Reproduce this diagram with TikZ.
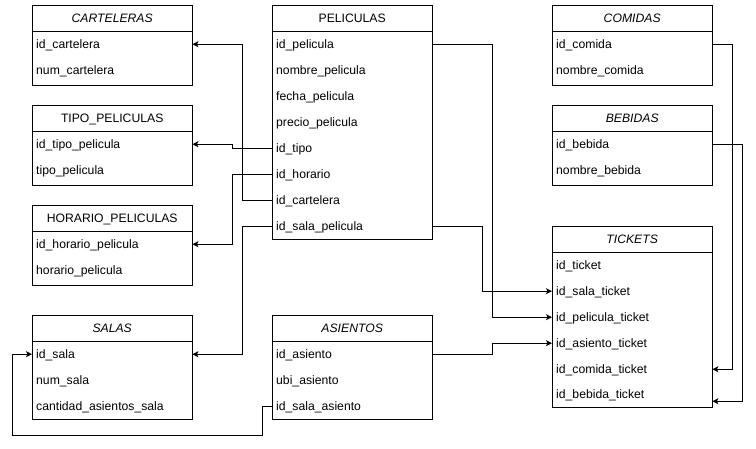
\documentclass[tikz,border=0pt]{standalone}
\usepackage{fontspec}
\setmainfont{Liberation Sans}
\usetikzlibrary{arrows.meta}
\begin{document}
\begin{tikzpicture}[x=1pt,y=-1pt,
  font=\fontsize{12.2}{14}\selectfont,
  tbl/.style={draw, line width=0.9pt, minimum width=160pt, anchor=north west, inner sep=0pt},
  hdr/.style={minimum width=160pt, minimum height=26pt, anchor=north west, inner sep=0pt, text height=9pt, text depth=1pt},
  hdri/.style={hdr, font=\fontsize{12.2}{14}\selectfont\itshape},
  rowbox/.style={minimum height=26pt, anchor=north west, text width=152pt, inner xsep=4pt, inner ysep=0pt, align=left, text height=9pt, text depth=1pt},
  conn/.style={line width=0.9pt, -{Stealth[length=6pt,width=6pt,inset=1.5pt]}},
  hline/.style={line width=0.9pt}
]
\useasboundingbox (0,0) rectangle (756,449);
\fill[white] (0,0) rectangle (756,449);

% CARTELERAS
\node[tbl, minimum height=80pt] (cartT) at (32,5) {};
\node[hdri] (cartH) at (32,5) {CARTELERAS};
\draw[hline] (cartH.south west) -- (cartH.south east);
\node[rowbox] (cart1) at (32,31) {id\_cartelera};
\node[rowbox] (cart2) at (32,57) {num\_cartelera};

% TIPO_PELICULAS
\node[tbl, minimum height=80pt] (tipoT) at (32,105) {};
\node[hdr] (tipoH) at (32,105) {TIPO\_PELICULAS};
\draw[hline] (tipoH.south west) -- (tipoH.south east);
\node[rowbox] (tipo1) at (32,131) {id\_tipo\_pelicula};
\node[rowbox] (tipo2) at (32,157) {tipo\_pelicula};

% HORARIO_PELICULAS
\node[tbl, minimum height=80pt] (horT) at (32,205) {};
\node[hdr] (horH) at (32,205) {HORARIO\_PELICULAS};
\draw[hline] (horH.south west) -- (horH.south east);
\node[rowbox] (hor1) at (32,231) {id\_horario\_pelicula};
\node[rowbox] (hor2) at (32,257) {horario\_pelicula};

% SALAS
\node[tbl, minimum height=104pt] (salaT) at (32,315) {};
\node[hdri] (salaH) at (32,315) {SALAS};
\draw[hline] (salaH.south west) -- (salaH.south east);
\node[rowbox] (sala1) at (32,341) {id\_sala};
\node[rowbox] (sala2) at (32,367) {num\_sala};
\node[rowbox] (sala3) at (32,393) {cantidad\_asientos\_sala};

% PELICULAS
\node[tbl, minimum height=234pt] (pelT) at (272,5) {};
\node[hdr] (pelH) at (272,5) {PELICULAS};
\draw[hline] (pelH.south west) -- (pelH.south east);
\node[rowbox] (pel1) at (272,31) {id\_pelicula};
\node[rowbox] (pel2) at (272,57) {nombre\_pelicula};
\node[rowbox] (pel3) at (272,83) {fecha\_pelicula};
\node[rowbox] (pel4) at (272,109) {precio\_pelicula};
\node[rowbox] (pel5) at (272,135) {id\_tipo};
\node[rowbox] (pel6) at (272,161) {id\_horario};
\node[rowbox] (pel7) at (272,187) {id\_cartelera};
\node[rowbox] (pel8) at (272,213) {id\_sala\_pelicula};

% ASIENTOS
\node[tbl, minimum height=104pt] (asiT) at (272,315) {};
\node[hdri] (asiH) at (272,315) {ASIENTOS};
\draw[hline] (asiH.south west) -- (asiH.south east);
\node[rowbox] (asi1) at (272,341) {id\_asiento};
\node[rowbox] (asi2) at (272,367) {ubi\_asiento};
\node[rowbox] (asi3) at (272,393) {id\_sala\_asiento};

% COMIDAS
\node[tbl, minimum height=80pt] (comT) at (552,5) {};
\node[hdri] (comH) at (552,5) {COMIDAS};
\draw[hline] (comH.south west) -- (comH.south east);
\node[rowbox] (com1) at (552,31) {id\_comida};
\node[rowbox] (com2) at (552,57) {nombre\_comida};

% BEBIDAS
\node[tbl, minimum height=80pt] (bebT) at (552,105) {};
\node[hdri] (bebH) at (552,105) {BEBIDAS};
\draw[hline] (bebH.south west) -- (bebH.south east);
\node[rowbox] (beb1) at (552,131) {id\_bebida};
\node[rowbox] (beb2) at (552,157) {nombre\_bebida};

% TICKETS
\node[tbl, minimum height=181pt] (tickT) at (552,226) {};
\node[hdri] (tickH) at (552,226) {TICKETS};
\draw[hline] (tickH.south west) -- (tickH.south east);
\node[rowbox] (tick1) at (552,252) {id\_ticket};
\node[rowbox] (tick2) at (552,278) {id\_sala\_ticket};
\node[rowbox] (tick3) at (552,304) {id\_pelicula\_ticket};
\node[rowbox] (tick4) at (552,330) {id\_asiento\_ticket};
\node[rowbox] (tick5) at (552,356) {id\_comida\_ticket};
\node[rowbox] (tick6) at (552,381) {id\_bebida\_ticket};

% connectors
\draw[conn] (pel7.west) -- ++(-30,0) |- (cart1.east);
\draw[conn] (pel5.west) -- ++(-40,0) |- (tipo1.east);
\draw[conn] (pel6.west) -- ++(-40,0) |- (hor1.east);
\draw[conn] (pel8.west) -- ++(-30,0) |- (sala1.east);
\draw[conn] (pel1.east) -- ++(60,0) |- (tick3.west);
\draw[conn] (pel8.east) -- ++(50,0) |- (tick2.west);
\draw[conn] (asi1.east) -- ++(60,0) |- (tick4.west);
\draw[conn] (com1.east) -- ++(20,0) |- (tick5.east);
\draw[conn] (beb1.east) -- ++(30,0) |- ([yshift=-7pt]tick6.east);
\coordinate (loopc) at (12,435);
\draw[conn] (asi3.west) -- ++(-10,0) |- (loopc) |- (sala1.west);
\end{tikzpicture}
\end{document}
